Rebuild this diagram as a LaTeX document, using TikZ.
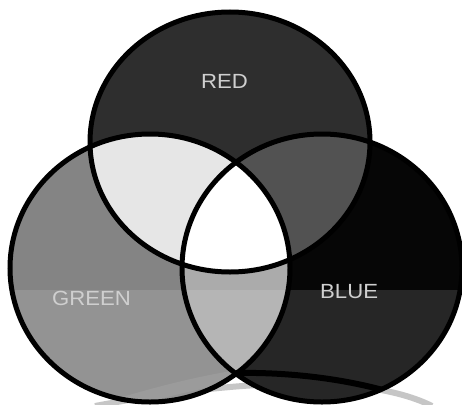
\documentclass[tikz,border=0pt]{standalone}
\usepackage{fontspec}
\setmainfont{Liberation Sans}
\definecolor{redonly}{HTML}{2E2E2E}
\definecolor{greenonly}{HTML}{848484}
\definecolor{blueonly}{HTML}{060606}
\definecolor{redgreen}{HTML}{E6E6E6}
\definecolor{redblue}{HTML}{525252}
\definecolor{greenblue}{HTML}{ABABAB}
\definecolor{lbltext}{HTML}{CFCFCF}
\definecolor{ghost}{HTML}{C6C6C6}
\newcommand\vRed{(230,142) ellipse [x radius=140pt, y radius=130pt]}
\newcommand\vGreen{(150,268) ellipse [x radius=140pt, y radius=134pt]}
\newcommand\vBlue{(322,268) ellipse [x radius=140pt, y radius=134pt]}
\begin{document}
\begin{tikzpicture}[x=1pt,y=-1pt,
  outline/.style={draw=black,line width=5pt},
  lbl/.style={anchor=base west,inner sep=0pt,text=lbltext,
    font=\fontsize{20.5}{21}\selectfont,xscale=1.08}]
\useasboundingbox (0,0) rectangle (462,404);
\fill[white] (0,0) rectangle (462,404);
% faint scan arc behind the circles
\draw[ghost,line width=6pt] (95,406) .. controls (180,390) and (350,365) .. (432,406);
% single regions
\fill[redonly] \vRed;
\fill[greenonly] \vGreen;
\fill[blueonly] \vBlue;
% pairwise overlaps
\begin{scope}
  \clip \vRed;
  \fill[redgreen] \vGreen;
  \fill[redblue] \vBlue;
\end{scope}
\begin{scope}
  \clip \vGreen;
  \fill[greenblue] \vBlue;
  \begin{scope}
    \clip \vRed;
    \fill[white] \vBlue;
  \end{scope}
\end{scope}
% scan artifacts
\begin{scope}
  \clip \vGreen \vBlue \vRed;
  \fill[white,opacity=0.13] (0,290) rectangle (462,404);
\end{scope}
\begin{scope}
  \clip \vGreen;
  \draw[white,opacity=0.08,line width=12pt] (120,404) .. controls (160,392) and (200,382) .. (238,376);
\end{scope}
\begin{scope}
  \clip \vBlue;
  \draw[black,line width=6pt] (236,373) .. controls (290,372) and (345,379) .. (390,392);
\end{scope}
% outlines
\draw[outline] \vRed;
\draw[outline] \vGreen;
\draw[outline] \vBlue;
% labels
\node[lbl] (red) at (201,88) {RED};
\node[lbl] (green) at (52,305) {GREEN};
\node[lbl] (blue) at (320,298) {BLUE};
\end{tikzpicture}
\end{document}
